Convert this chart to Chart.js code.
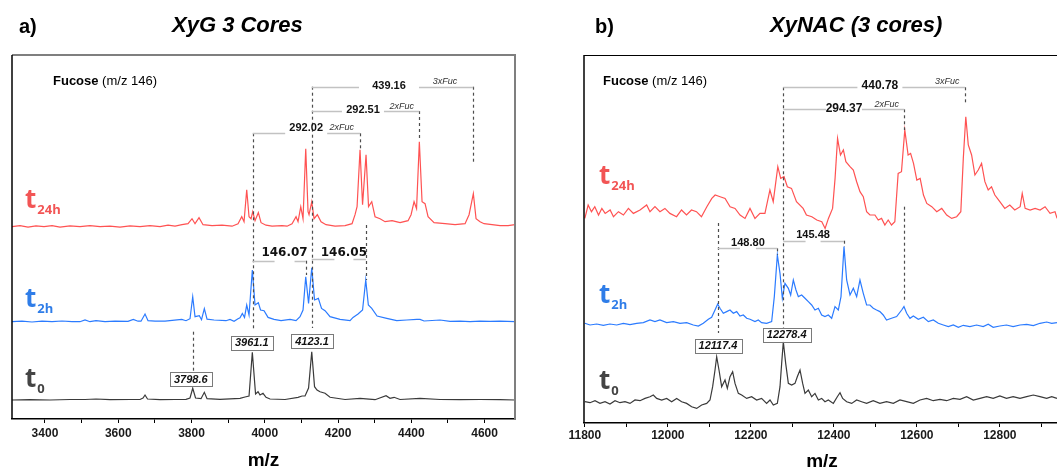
<!DOCTYPE html>
<html>
<head>
<meta charset="utf-8">
<script src="https://cdn.jsdelivr.net/npm/chart.js@4.4.0/dist/chart.umd.min.js"></script>
<style>
  html, body { margin: 0; padding: 0; background: #fff; overflow: hidden; }
  body { width: 1057px; height: 468px; position: relative; }
  canvas { position: absolute; top: 0; }
  #chartA { left: 0; }
  #chartB { left: 530px; }
</style>
</head>
<body>
<canvas id="chartA" width="530" height="468"></canvas>
<canvas id="chartB" width="535" height="468"></canvas>
<script>
// ---- panel a: XyG 3 cores (m/z, relative intensity) ----
const mzA24 = [3310,3331.8,3353.7,3375.5,3397.4,3419.2,3441,3468.3,3495.6,3522.9,3550.2,3577.5,3604.8,3632.1,3659.4,3686.7,3714,3735.9,3755,3774.1,3790.5,3801.4,3809.6,3820.5,3831.4,3856,3883.3,3910.6,3927,3937.1,3943.4,3950.7,3957,3962.5,3967.1,3973.4,3982.4,3989.8,4003.4,4019.8,4047.1,4060.8,4074.4,4085.3,4090.8,4098.2,4104.4,4111.8,4118.1,4120.8,4128.2,4134.5,4143.5,4153.6,4167.2,4191.8,4219.1,4238.2,4246.4,4251.9,4260,4266.9,4276.4,4283.2,4292,4301,4314.6,4328.3,4347.4,4369.2,4391.1,4399.3,4407.5,4414.3,4421.9,4429.3,4437.5,4445.7,4462.1,4492.1,4519.4,4546.7,4557.6,4569.3,4576.7,4587.6,4598.6,4620.4,4642.2,4664.1,4683.2];
const intA24 = [0,1,-0.5,0.8,0,1,-0.5,0.8,0,1,0,0.5,-0.5,0.8,0,1,0,1.5,0.5,2,3,8,3,9,2,1,1.5,0.5,3,10,5,37,10,8,15,6,14,4,1.5,0.5,1,0.5,3,10,5,20,8,78,15,12,25,8,12,5,2,0.5,1,3,12,20,77,22,72,20,25,10,8,5,6,4,6,12,25,18,85,25,23,10,4,3,2,3,12,33,8,5,3,2,1,1,2];

const mzA2 = [3310,3337.3,3364.6,3391.9,3419.2,3446.5,3473.8,3495.6,3509.3,3522.9,3539.3,3563.9,3591.2,3626.7,3641.1,3654,3662.2,3673.1,3681.3,3700.4,3727.7,3773.3,3785,3795.9,3803.3,3809.6,3821.3,3827.3,3835,3842.4,3861.5,3894.2,3905.1,3916.1,3927,3932.4,3938.7,3944.7,3950.7,3957,3966,3973.4,3982.4,3988.4,3998,4008.9,4025.3,4044.4,4068.9,4085.3,4096.2,4104.4,4111.8,4119.5,4128.2,4135.8,4146.2,4154.9,4164.5,4178.1,4205.4,4232.7,4240.9,4254.6,4266.9,4275.6,4282.7,4292,4306.5,4332.9,4360.2,4387.5,4414.8,4423.8,4434.8,4478.4,4505.7,4533,4560.3,4587.6,4614.9,4642.2,4683.2];
const intA2 = [0,0.5,-0.3,0.5,0,0.7,0,0,1.7,0,1,0,0.5,0.3,2.3,0.5,0.5,7.7,1,0.5,0.5,2.3,1,3,25,5,6,2,13,2.5,1.7,1,2.3,0.5,3,4,8.3,4.3,16.7,6.7,51.7,16.7,19,11.7,11,4.3,2.3,1,2.3,1,5,11.7,45,18.3,54,21.7,23.3,13.3,11,5,2.3,1,4.3,7.7,11.7,41.7,16.7,13.3,5.7,3.3,1,1.7,2.3,2.3,0.7,1.7,0.3,0.5,0,0.5,0.3,0.5,0];

const mzA0 = [3310,3359.1,3413.7,3468.3,3509.3,3539.3,3577.5,3632.1,3659.4,3667.6,3673.1,3679.9,3714,3755,3785,3795.9,3803.3,3811,3826,3835,3842.4,3877.8,3932.4,3946.1,3957,3966,3974.8,3981.6,3987,3995.2,4003.4,4014.3,4055.3,4090.8,4101.7,4109.9,4119.5,4128.2,4135.8,4142.6,4150.8,4164.5,4178.1,4219.1,4260,4301,4331,4341.9,4352.9,4369.2,4423.8,4478.4,4533,4587.6,4642.2,4683.2];
const intA0 = [0,0.3,0,0.5,0.5,1,0.3,0.5,0.5,2,5,1,0.3,0.5,0.7,2,11.7,2,1.3,7.7,1.3,0.7,1.7,3,4,47.7,6,8.3,5,6.7,2.7,1,0.5,2.7,4,4,12,48.3,13.3,10,8.3,6.7,2.7,0.5,1.7,0.3,4.3,1.7,2.7,0.5,1.7,0.5,0.3,0.5,0.3,0];

const ticksA = [3400,3500,3600,3700,3800,3900,4000,4100,4200,4300,4400,4500,4600];

// ---- panel b: XyNAC (3 cores) ----
const mzB24 = [11800,11808,11816,11824,11833,11841,11849,11861,11869,11881,11893,11905,11917,11933,11949,11957,11969,11981,11993,12005,12021,12033,12045,12057,12069,12081,12094,12106,12114,12126,12138,12150,12162,12174,12186,12198,12210,12222,12234,12246,12254,12265,12272,12280,12288,12298,12310,12326,12334,12347,12359,12371,12379,12387,12397,12403,12409,12416,12423,12429,12439,12447,12455,12463,12471,12479,12487,12499,12507,12515,12523,12531,12539,12547,12555,12563,12571,12579,12585,12592,12600,12608,12616,12624,12636,12648,12660,12672,12684,12696,12706,12712,12718,12724,12732,12740,12748,12756,12764,12772,12780,12788,12800,12812,12824,12836,12849,12854,12861,12873,12885,12897,12909,12921,12933,12938];
const intB24 = [-6.7,6.7,0,5,-3.3,3.3,-1.7,1.7,-5,0,-3.3,3.3,-1.7,1.7,6.7,0,5,0,3.3,-1.7,-5,1.7,-3.3,1.7,0,-5,5,13.3,16.7,15,13.3,5,3.3,-3.3,-6.7,3.3,-6.7,-1.7,-1.7,21.7,10,45,33.3,35,25,23.3,10,3.3,-3.3,-5,-8.3,-10,-16.7,-6.7,3.3,33.3,73.3,56.7,61.7,50,45,41.7,30,20,15,0,-3.3,-3.3,-8.3,-6.7,-13.3,-8.3,-13.3,-10,38.3,40,81.7,56.7,58.3,48.3,31.7,33.3,16.7,8.3,5,0,3.3,-3.3,-6.7,-5,0,53.3,95,66.7,56.7,36.7,41.7,48.3,30,21.7,25,16.7,10,3.3,6.7,1.7,5,18.3,3.3,1.7,3.3,1.7,5,-1.7,0,-6.7];

const mzB2 = [11800,11812.5,11828.5,11844.6,11860.6,11876.7,11892.8,11908.8,11924.9,11941,11957,11969,11981,11997.2,12013.3,12029.3,12045.4,12061.4,12073.5,12085.5,12097.6,12105.6,12113.7,12120.1,12125.7,12133.7,12141.8,12149.8,12157.8,12165.9,12173.9,12181.9,12190,12198,12210,12218,12226,12238,12250.2,12256.6,12263.9,12270.3,12275.9,12282.3,12290.4,12296,12302.4,12308.8,12314.5,12322.5,12330.5,12338.6,12346.6,12354.6,12362.7,12370.7,12378.7,12386.7,12394.8,12402.8,12410.8,12417.3,12424.5,12430.9,12439,12447,12455,12463,12471,12479,12487,12495,12503,12511,12519,12527,12539,12551.4,12563.5,12569,12575.5,12583.5,12591.6,12603.6,12615.7,12627.7,12639.7,12651.8,12663.8,12675.9,12687.9,12700,12712,12728,12744,12760,12772,12784,12800,12816,12832,12848.6,12864.7,12880.7,12896.8,12912.9,12925,12937.7];
const intB2 = [1,-0.7,0.3,-1,0.3,-0.7,1,-0.3,1,1.7,4.3,2.7,4.3,1.7,2.7,1,1.7,-0.7,-1.7,1,5,7,14.3,20.3,16,11,12.7,14.3,11,12.7,8.3,9.3,6,5,2.7,4.3,1.7,1,2.7,27.7,69.3,51,26,41,36,29.3,44.3,34.3,27.7,29.3,26,22.7,19.3,14.3,16,9.3,7.7,9.3,6,17.7,14.3,27.7,77.7,44.3,29.3,36,27.7,44.3,31,19.3,19.3,16,14.3,12.7,9.3,4.3,6,7.7,14.3,17.7,11,6,8.3,5,7,2.7,4.3,1,-0.7,-2.3,-0.7,-3,-1,-2.3,-0.7,-2.3,0,-3,-1.7,-0.7,-2.3,-0.7,0,-1.3,1,2.3,1,1.7];

const mzB0 = [11800,11812.5,11824.5,11836.6,11848.6,11860.6,11872.7,11884.7,11896.8,11908.8,11920.9,11932.9,11945,11957,11965,11973.1,11985.2,11997.2,12009.2,12021.3,12033.3,12045.4,12057.4,12069.5,12081.5,12093.6,12101.6,12108,12113.7,12117.7,12123.3,12129.7,12137.8,12143.4,12149.8,12156.2,12161.9,12169.9,12177.9,12190,12202,12214,12226,12238,12246.2,12254.2,12263.9,12270.3,12274.3,12278.3,12284,12290.4,12298.4,12306.4,12312,12318.5,12324.9,12330.5,12338.6,12346.6,12354.6,12362.7,12370.7,12378.7,12386.7,12398.8,12408.4,12414.9,12421.3,12430.9,12443,12455,12467,12479,12495,12511,12527,12543.4,12559.4,12575.5,12591.6,12607.6,12623.7,12639.7,12655.8,12671.9,12687.9,12704,12720,12736.1,12752.2,12768.3,12784,12800,12816,12832,12848.6,12864.7,12880.7,12896.8,12912.9,12925,12937.7];
const intB0 = [0,-1,1,-1.7,0,-2.3,1,-1,0,-1.7,1.7,1,3.3,5,6.7,3.3,1.7,3.3,0,3.3,0,-1.7,-5,-6.7,-3.3,-1.7,1.7,15,31.7,45,31.7,15,21.7,13.3,25,30,18.3,8.3,6.7,3.3,5,1.7,3.3,-1.7,1.7,-3.3,-1.7,15,38.3,60,38.3,18.3,16.7,18.3,25,31.7,18.3,8.3,11.7,5,8.3,1.7,3.3,0,1.7,-1.7,5,9,3.3,0,-1.7,1.7,0,-1.7,1,-1.7,0,-1.7,1.7,0,-1.7,1.7,3.3,1,2.3,1,3.3,2.3,5,1.7,3.3,5,3.3,5.7,3.3,5,3.3,5,6.7,5,3.3,5,3.3];

const ticksB = [11800,11900,12000,12100,12200,12300,12400,12500,12600,12700,12800,12900];

const ARIAL = '"Liberation Sans", Arial, sans-serif';
const RED = '#ff5252', BLUE = '#2b7bff', DARK = '#3a3a3a';

// annotation layout: x in m/z, y in plot units (1 unit = 1 px above the axis)
const annA = {
  brackets: [
    { label: '439.16', x1: 4128, x2: 4569, y: 332.3, tx: 4339, ty: 333.5, gap: 60, font: 'bold 11px ' + ARIAL },
    { label: '292.51', x1: 4128, x2: 4422, y: 308, tx: 4268, ty: 309.3, gap: 42, font: 'bold 11px ' + ARIAL },
    { label: '292.02', x1: 3967, x2: 4260, y: 285.7, tx: 4113, ty: 291.5, gap: 42, font: 'bold 11px ' + ARIAL },
    { label: '146.07', x1: 3966, x2: 4112, y: 158.3, tx: 4054, ty: 165.7, gap: 20, font: 'bold 12px "DejaVu Sans"' },
    { label: '146.05', x1: 4128, x2: 4276, y: 159.7, tx: 4216, ty: 165.7, gap: 19, font: 'bold 12px "DejaVu Sans"' }
  ],
  tags: [['3xFuc', 4492, 338], ['2xFuc', 4374, 312.3], ['2xFuc', 4210, 291.7]],
  dashes: [[4569, 332.3, 257.3], [4128, 332.3, 91], [4422, 308, 279], [3967, 285.7, 89], [4260, 285.7, 269], [4276, 194, 139], [4112, 158.3, 144], [3804, 87.3, 47]],
  boxes: [['3961.1', 3964.4, 76.3], ['4123.1', 4129, 78], ['3798.6', 3798, 39.7]]
};
const annB = {
  brackets: [
    { label: '440.78', x1: 12278.2, x2: 12716, y: 335.7, tx: 12511, ty: 337.3, gap: 45, font: 'bold 12px ' + ARIAL },
    { label: '294.37', x1: 12278.2, x2: 12569.8, y: 313.7, tx: 12424.5, ty: 314.7, gap: 36, font: 'bold 12px ' + ARIAL },
    { label: '148.80', x1: 12120.2, x2: 12263.8, y: 174.7, tx: 12193, ty: 179.7, gap: 16, font: 'bold 11px ' + ARIAL },
    { label: '145.48', x1: 12278.2, x2: 12424.5, y: 182.3, tx: 12350, ty: 188, gap: 15, font: 'bold 11px ' + ARIAL }
  ],
  tags: [['3xFuc', 12673.4, 342], ['2xFuc', 12527.4, 318.7]],
  dashes: [[12716, 335.7, 319.7], [12278.2, 335.7, 95], [12569.8, 313.7, 293], [12569.8, 216.3, 123], [12120.2, 200, 90], [12263.8, 174.7, 168], [12424.5, 182.3, 176]],
  boxes: [['12117.4', 12120.9, 77.5], ['12278.4', 12286.4, 88.3]]
};

function trace(mz, ints, offset, color) {
  return {
    data: mz.map((x, i) => ({ x: x, y: ints[i] + offset })),
    borderColor: color, borderWidth: 1.2, pointRadius: 0, tension: 0, fill: false
  };
}

function drawT(ctx, x, y, sub, color) {
  ctx.fillStyle = color;
  ctx.textAlign = 'left';
  ctx.textBaseline = 'alphabetic';
  ctx.font = 'bold 26px "Open Sans"';
  ctx.fillText('t', x, y);
  const w = ctx.measureText('t').width;
  ctx.font = 'bold 13px "Open Sans"';
  ctx.fillText(sub, x + w + 1, y + 6);
}

function overlay(ann, txt) {
  return {
    id: 'overlay',
    afterDatasetsDraw(chart) {
      const ctx = chart.ctx, xs = chart.scales.x, ys = chart.scales.y, a = chart.chartArea;
      const X = v => xs.getPixelForValue(v), Y = v => ys.getPixelForValue(v);
      ctx.save();
      // frame
      if (txt.grayFrame) {
        ctx.strokeStyle = '#7f7f7f'; ctx.lineWidth = 2;
        ctx.beginPath(); ctx.moveTo(a.left, a.top); ctx.lineTo(a.right, a.top); ctx.lineTo(a.right, a.bottom); ctx.stroke();
      } else {
        ctx.strokeStyle = '#000'; ctx.lineWidth = 1;
        ctx.beginPath(); ctx.moveTo(a.left, a.top + 0.5); ctx.lineTo(a.right, a.top + 0.5); ctx.stroke();
      }
      ctx.strokeStyle = '#000'; ctx.lineWidth = 1.5;
      ctx.beginPath(); ctx.moveTo(a.left, a.top); ctx.lineTo(a.left, a.bottom); ctx.stroke();

      // dashed drop lines
      ctx.strokeStyle = '#4d4d4d'; ctx.lineWidth = 1.2; ctx.setLineDash([3, 3]);
      ann.dashes.forEach(d => {
        const x = Math.round(X(d[0])) + 0.5;
        ctx.beginPath(); ctx.moveTo(x, Y(d[1])); ctx.lineTo(x, Y(d[2])); ctx.stroke();
      });
      ctx.setLineDash([]);

      // brackets with mass differences
      ann.brackets.forEach(b => {
        const y = Math.round(Y(b.y)) + 0.5, cx = X(b.tx);
        ctx.strokeStyle = '#c2c2c2'; ctx.lineWidth = 1.5;
        ctx.beginPath();
        ctx.moveTo(X(b.x1), y); ctx.lineTo(cx - b.gap / 2, y);
        ctx.moveTo(cx + b.gap / 2, y); ctx.lineTo(X(b.x2), y);
        ctx.stroke();
        ctx.font = b.font; ctx.fillStyle = '#111';
        ctx.textAlign = 'center'; ctx.textBaseline = 'middle';
        ctx.fillText(b.label, cx, Y(b.ty));
      });
      ctx.font = 'italic 9px ' + ARIAL; ctx.fillStyle = '#333';
      ann.tags.forEach(t => ctx.fillText(t[0], X(t[1]), Y(t[2])));

      // boxed peak labels
      ctx.font = 'italic bold 11px ' + ARIAL;
      ann.boxes.forEach(bx => {
        const cx = X(bx[1]), cy = Y(bx[2]), w = ctx.measureText(bx[0]).width + 8, h = 14;
        ctx.fillStyle = '#fff'; ctx.fillRect(cx - w / 2, cy - h / 2, w, h);
        ctx.strokeStyle = '#7a7a7a'; ctx.lineWidth = 1;
        ctx.strokeRect(Math.round(cx - w / 2) + 0.5, Math.round(cy - h / 2) + 0.5, Math.round(w), h);
        ctx.fillStyle = '#111'; ctx.fillText(bx[0], cx, cy + 0.5);
      });

      // texts
      ctx.textAlign = 'left'; ctx.textBaseline = 'alphabetic'; ctx.fillStyle = '#000';
      ctx.font = 'bold 20px ' + ARIAL; ctx.fillText(txt.tag, txt.tagX, 33);
      ctx.font = 'italic bold 22px ' + ARIAL; ctx.fillText(txt.title, txt.titleX, 32);
      ctx.font = 'bold 13px ' + ARIAL; ctx.fillText('Fucose', txt.fucX, 85);
      const fw = ctx.measureText('Fucose ').width;
      ctx.font = '13px ' + ARIAL; ctx.fillText('(m/z 146)', txt.fucX + fw, 85);
      txt.tl.forEach(t => drawT(ctx, txt.tX, t[1], t[0], t[2]));
      ctx.font = 'bold 19px ' + ARIAL; ctx.fillStyle = '#000'; ctx.textAlign = 'center';
      ctx.fillText('m/z', (a.left + a.right) / 2, txt.mzY);
      ctx.restore();
    }
  };
}

function makeChart(id, datasets, xMin, xMax, yMax, tickVals, scaleH, tickPad, padding, ann, txt) {
  return new Chart(document.getElementById(id), {
    type: 'line',
    data: { datasets: datasets },
    options: {
      responsive: false, animation: false, devicePixelRatio: 1,
      layout: { padding: padding },
      plugins: { legend: { display: false }, tooltip: { enabled: false } },
      scales: {
        x: {
          type: 'linear', min: xMin, max: xMax, position: 'bottom',
          afterBuildTicks: s => { s.ticks = tickVals.map(v => ({ value: v })); },
          afterFit: s => { s.height = scaleH; },
          grid: { drawOnChartArea: false, drawTicks: true, tickLength: 4, color: '#000', lineWidth: 1 },
          border: { display: true, color: '#000', width: 1.5 },
          ticks: {
            autoSkip: false, maxRotation: 0, padding: tickPad, color: '#1a1a1a',
            font: { family: ARIAL, size: 12, weight: 'bold' },
            callback: v => (v % 200 === 0 ? String(v) : '')
          }
        },
        y: { display: false, min: 0, max: yMax }
      }
    },
    plugins: [overlay(ann, txt)]
  });
}

makeChart('chartA', [
  trace(mzA24, intA24, 192.3, RED),
  trace(mzA2, intA2, 97.3, BLUE),
  trace(mzA0, intA0, 19, DARK)
], 3310, 4683, 364, ticksA, 49, 3, { left: 12, right: 15, top: 55, bottom: 0 }, annA, {
  grayFrame: true, tag: 'a)', tagX: 19, title: 'XyG 3 Cores', titleX: 172, fucX: 53, tX: 25, mzY: 466,
  tl: [['24h', 208, '#f25555'], ['2h', 307, '#2f7de8'], ['0', 387, '#444']]
});

makeChart('chartB', [
  trace(mzB24, intB24, 211.3, RED),
  trace(mzB2, intB2, 98.7, BLUE),
  trace(mzB0, intB0, 21.3, DARK)
], 11798, 12945, 368, ticksB, 45, 1, { left: 54, right: 5, top: 55, bottom: 0 }, annB, {
  grayFrame: false, tag: 'b)', tagX: 65, title: 'XyNAC (3 cores)', titleX: 240, fucX: 73, tX: 69, mzY: 467,
  tl: [['24h', 184, '#f25555'], ['2h', 303, '#2f7de8'], ['0', 389, '#444']]
});
</script>
</body>
</html>
